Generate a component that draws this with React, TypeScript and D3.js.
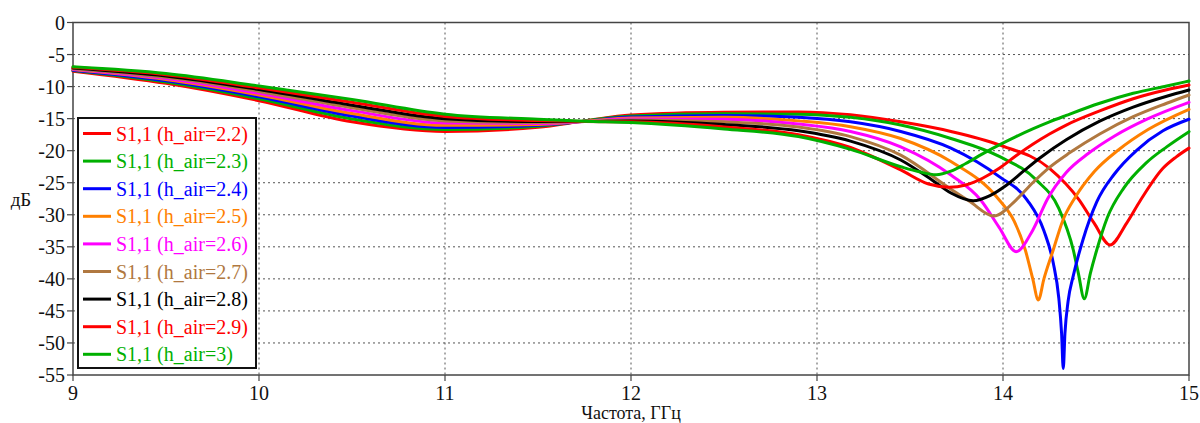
import React from 'react';
import * as d3 from 'd3';

const WIDTH = 1200;
const HEIGHT = 423;

const X_TICKS = [9, 10, 11, 12, 13, 14, 15];
const Y_TICKS = [0, -5, -10, -15, -20, -25, -30, -35, -40, -45, -50, -55];
const X_TITLE = 'Частота, ГГц';
const Y_TITLE = 'дБ';

const H_AIR = ['2.2', '2.3', '2.4', '2.5', '2.6', '2.7', '2.8', '2.9', '3'];
const SERIES_COLORS = ['#ff0000', '#00b000', '#0000ff', '#ff8000', '#ff00ff', '#b07840', '#000000', '#ff0000', '#00b000'];

// Reflection coefficient S1,1 (dB) versus frequency (GHz) for each air-gap height
const S11_H22: [number, number][] = [
  [9, -7.6], [9.5, -9.5], [10, -12.2], [10.5, -15.5], [11, -17.0], [11.5, -16.35], [11.75, -15.35],
  [12, -14.45], [12.5, -14.0], [12.9, -13.95], [13.18, -14.4], [13.45, -15.5], [13.72, -17.0],
  [13.98, -19.1], [14.25, -22.75], [14.41, -27.7], [14.49, -31.3], [14.575, -34.7], [14.665, -31.3],
  [14.74, -27.7], [14.86, -22.75], [14.93, -21.0], [15, -19.6],
];
const S11_H23: [number, number][] = [
  [9, -7.5], [9.5, -9.3], [10, -11.9], [10.5, -15.05], [11, -16.7], [11.5, -16.2], [11.75, -15.35],
  [12, -14.6], [12.5, -14.25], [12.9, -14.3], [13.18, -14.8], [13.45, -16.0], [13.72, -18.1],
  [13.98, -20.9], [14.18, -24.6], [14.3, -29.0], [14.378, -35.5], [14.405, -39.1], [14.437, -43.1],
  [14.47, -39.1], [14.504, -35.5], [14.56, -30.5], [14.65, -25.8], [14.77, -21.9], [14.88, -19.4],
  [15, -17.03],
];
const S11_H24: [number, number][] = [
  [9, -7.45], [9.5, -9.1], [10, -11.6], [10.5, -14.6], [11, -16.4], [11.5, -16.05], [11.75, -15.4],
  [12, -14.75], [12.5, -14.5], [12.9, -14.8], [13.18, -15.5], [13.45, -17.0], [13.72, -19.6],
  [13.98, -24.05], [14.13, -27.7], [14.22, -32.5], [14.27, -37.5], [14.3, -43.0], [14.315, -48.5],
  [14.324, -54.0], [14.333, -48.5], [14.35, -43.5], [14.378, -39.5], [14.43, -33.9], [14.504, -28.0],
  [14.6, -23.6], [14.72, -19.9], [14.86, -16.9], [15, -15.1],
];
const S11_H25: [number, number][] = [
  [9, -7.35], [9.5, -8.9], [10, -11.3], [10.5, -14.2], [11, -16.05], [11.5, -15.9], [11.75, -15.4],
  [12, -14.9], [12.5, -14.8], [12.9, -15.35], [13.18, -16.25], [13.45, -18.1], [13.72, -21.7],
  [13.98, -27.7], [14.06, -31.0], [14.12, -35.5], [14.16, -40.0], [14.19, -43.3], [14.22, -40.0],
  [14.27, -35.5], [14.32, -31.0], [14.39, -27.2], [14.49, -23.3], [14.62, -19.9], [14.78, -16.7],
  [15, -13.54],
];
const S11_H26: [number, number][] = [
  [9, -7.3], [9.5, -8.75], [10, -11.05], [10.5, -13.75], [11, -15.7], [11.5, -15.75], [11.75, -15.45],
  [12, -15.05], [12.5, -15.1], [12.9, -15.85], [13.18, -17.0], [13.45, -19.4], [13.72, -23.8],
  [13.88, -27.7], [13.98, -32.0], [14.07, -35.75], [14.16, -32.4], [14.24, -27.5], [14.34, -23.4],
  [14.46, -20.4], [14.6, -17.7], [14.78, -15.0], [15, -12.45],
];
const S11_H27: [number, number][] = [
  [9, -7.2], [9.5, -8.55], [10, -10.75], [10.5, -13.3], [11, -15.35], [11.5, -15.6], [11.75, -15.45],
  [12, -15.2], [12.5, -15.5], [12.9, -16.3], [13.18, -17.8], [13.45, -20.7], [13.72, -26.0],
  [13.82, -27.9], [13.95, -30.2], [14.07, -27.7], [14.16, -25.0], [14.25, -22.6], [14.36, -20.3],
  [14.52, -17.4], [14.7, -14.7], [14.88, -12.6], [15, -11.31],
];
const S11_H28: [number, number][] = [
  [9, -7.1], [9.5, -8.35], [10, -10.45], [10.5, -12.9], [11, -15.0], [11.5, -15.45], [11.75, -15.45],
  [12, -15.35], [12.5, -15.9], [12.9, -16.9], [13.18, -18.5], [13.45, -21.45], [13.62, -24.6],
  [13.72, -26.6], [13.84, -27.8], [13.93, -27.0], [14.02, -25.35], [14.11, -23.2], [14.2, -21.1],
  [14.34, -18.3], [14.52, -15.4], [14.7, -13.2], [14.88, -11.5], [15, -10.53],
];
const S11_H29: [number, number][] = [
  [9, -7.0], [9.5, -8.15], [10, -10.2], [10.5, -12.45], [11, -14.65], [11.5, -15.3], [11.75, -15.45],
  [12, -15.5], [12.5, -16.3], [12.9, -17.5], [13.18, -19.5], [13.45, -23.0], [13.6, -25.2],
  [13.71, -25.7], [13.8, -25.35], [13.89, -24.3], [13.98, -22.75], [14.07, -20.8], [14.16, -19.0],
  [14.25, -17.4], [14.34, -16.0], [14.52, -13.8], [14.7, -11.9], [14.88, -10.5], [15, -9.75],
];
const S11_H30: [number, number][] = [
  [9, -6.9], [9.5, -7.95], [10, -9.9], [10.5, -12.0], [11, -14.3], [11.5, -15.1], [11.75, -15.4],
  [12, -15.6], [12.5, -16.6], [12.9, -17.8], [13.18, -19.8], [13.45, -22.5], [13.55, -23.3],
  [13.64, -23.75], [13.72, -23.2], [13.8, -22.0], [13.89, -20.5], [13.98, -19.1], [14.07, -17.8],
  [14.16, -16.6], [14.25, -15.5], [14.34, -14.5], [14.52, -12.6], [14.7, -11.05], [14.88, -9.9],
  [15, -9.13],
];

const SERIES = [S11_H22, S11_H23, S11_H24, S11_H25, S11_H26, S11_H27, S11_H28, S11_H29, S11_H30];

const SERIF = 'Liberation Serif, FreeSerif, Tinos, serif';

export default function App() {
  const plot = { left: 73, right: 1189, top: 22.5, bottom: 375 };
  const x = d3.scaleLinear().domain([9, 15]).range([plot.left, plot.right]);
  const y = d3.scaleLinear().domain([-55, 0]).range([plot.bottom, plot.top]);

  const line = d3
    .line<[number, number]>()
    .x((d) => x(d[0]))
    .y((d) => y(d[1]))
    .curve(d3.curveMonotoneX);

  const legend = { x: 78, y: 118, w: 178, h: 250, row0: 133.5, step: 27.6 };

  return (
    <div style={{ position: 'absolute', left: 0, top: 0, fontFamily: SERIF }}>
      <svg width={WIDTH} height={HEIGHT} fontFamily={SERIF} style={{ display: 'block', background: '#fff' }}>
        <rect x={0} y={0} width={WIDTH} height={HEIGHT} fill="#fff" />

        {/* grid */}
        <g stroke="#555" strokeWidth={1} strokeDasharray="2,3">
          {X_TICKS.slice(1, -1).map((t) => (
            <line key={`gx${t}`} x1={x(t)} x2={x(t)} y1={plot.top} y2={plot.bottom} />
          ))}
          {Y_TICKS.slice(1, -1).map((t) => (
            <line key={`gy${t}`} x1={plot.left} x2={plot.right} y1={y(t)} y2={y(t)} />
          ))}
        </g>

        {/* frame */}
        <rect
          x={plot.left}
          y={plot.top}
          width={plot.right - plot.left}
          height={plot.bottom - plot.top}
          fill="none"
          stroke="#444"
          strokeWidth={1.5}
        />

        {/* ticks and tick labels */}
        <g stroke="#444" strokeWidth={1.2}>
          {Y_TICKS.map((t) => (
            <line key={`ty${t}`} x1={plot.left - 6} x2={plot.left} y1={y(t)} y2={y(t)} />
          ))}
          {X_TICKS.map((t) => (
            <line key={`tx${t}`} x1={x(t)} x2={x(t)} y1={plot.bottom} y2={plot.bottom + 6} />
          ))}
        </g>
        <g fontFamily={SERIF} fontSize={20} fill="#111">
          {Y_TICKS.map((t) => (
            <text key={`ly${t}`} x={plot.left - 8} y={y(t) + 7} textAnchor="end">
              {String(t)}
            </text>
          ))}
          {X_TICKS.map((t) => (
            <text key={`lx${t}`} x={x(t)} y={plot.bottom + 25} textAnchor="middle">
              {String(t)}
            </text>
          ))}
        </g>

        {/* axis titles */}
        <g fontFamily={SERIF} fill="#111">
          <text x={x(12)} y={419} fontSize={18} textAnchor="middle">
            {X_TITLE}
          </text>
          <text x={21} y={206} fontSize={19} textAnchor="middle">
            {Y_TITLE}
          </text>
        </g>

        {/* curves */}
        <g fill="none" strokeWidth={3} strokeLinejoin="round" strokeLinecap="round">
          {SERIES.map((s, i) => (
            <path key={`s${i}`} d={line(s) ?? ''} stroke={SERIES_COLORS[i]} />
          ))}
        </g>

        {/* legend */}
        <rect x={legend.x} y={legend.y} width={legend.w} height={legend.h} fill="#fff" stroke="#111" strokeWidth={2} />
        <g fontFamily={SERIF} fontSize={20}>
          {H_AIR.map((h, i) => {
            const cy = legend.row0 + i * legend.step;
            return (
              <g key={`lg${h}`}>
                <line x1={legend.x + 5} x2={legend.x + 33} y1={cy} y2={cy} stroke={SERIES_COLORS[i]} strokeWidth={3} />
                <text x={legend.x + 38} y={cy + 7} fill={SERIES_COLORS[i]}>
                  {`S1,1 (h_air=${h})`}
                </text>
              </g>
            );
          })}
        </g>
      </svg>
    </div>
  );
}
